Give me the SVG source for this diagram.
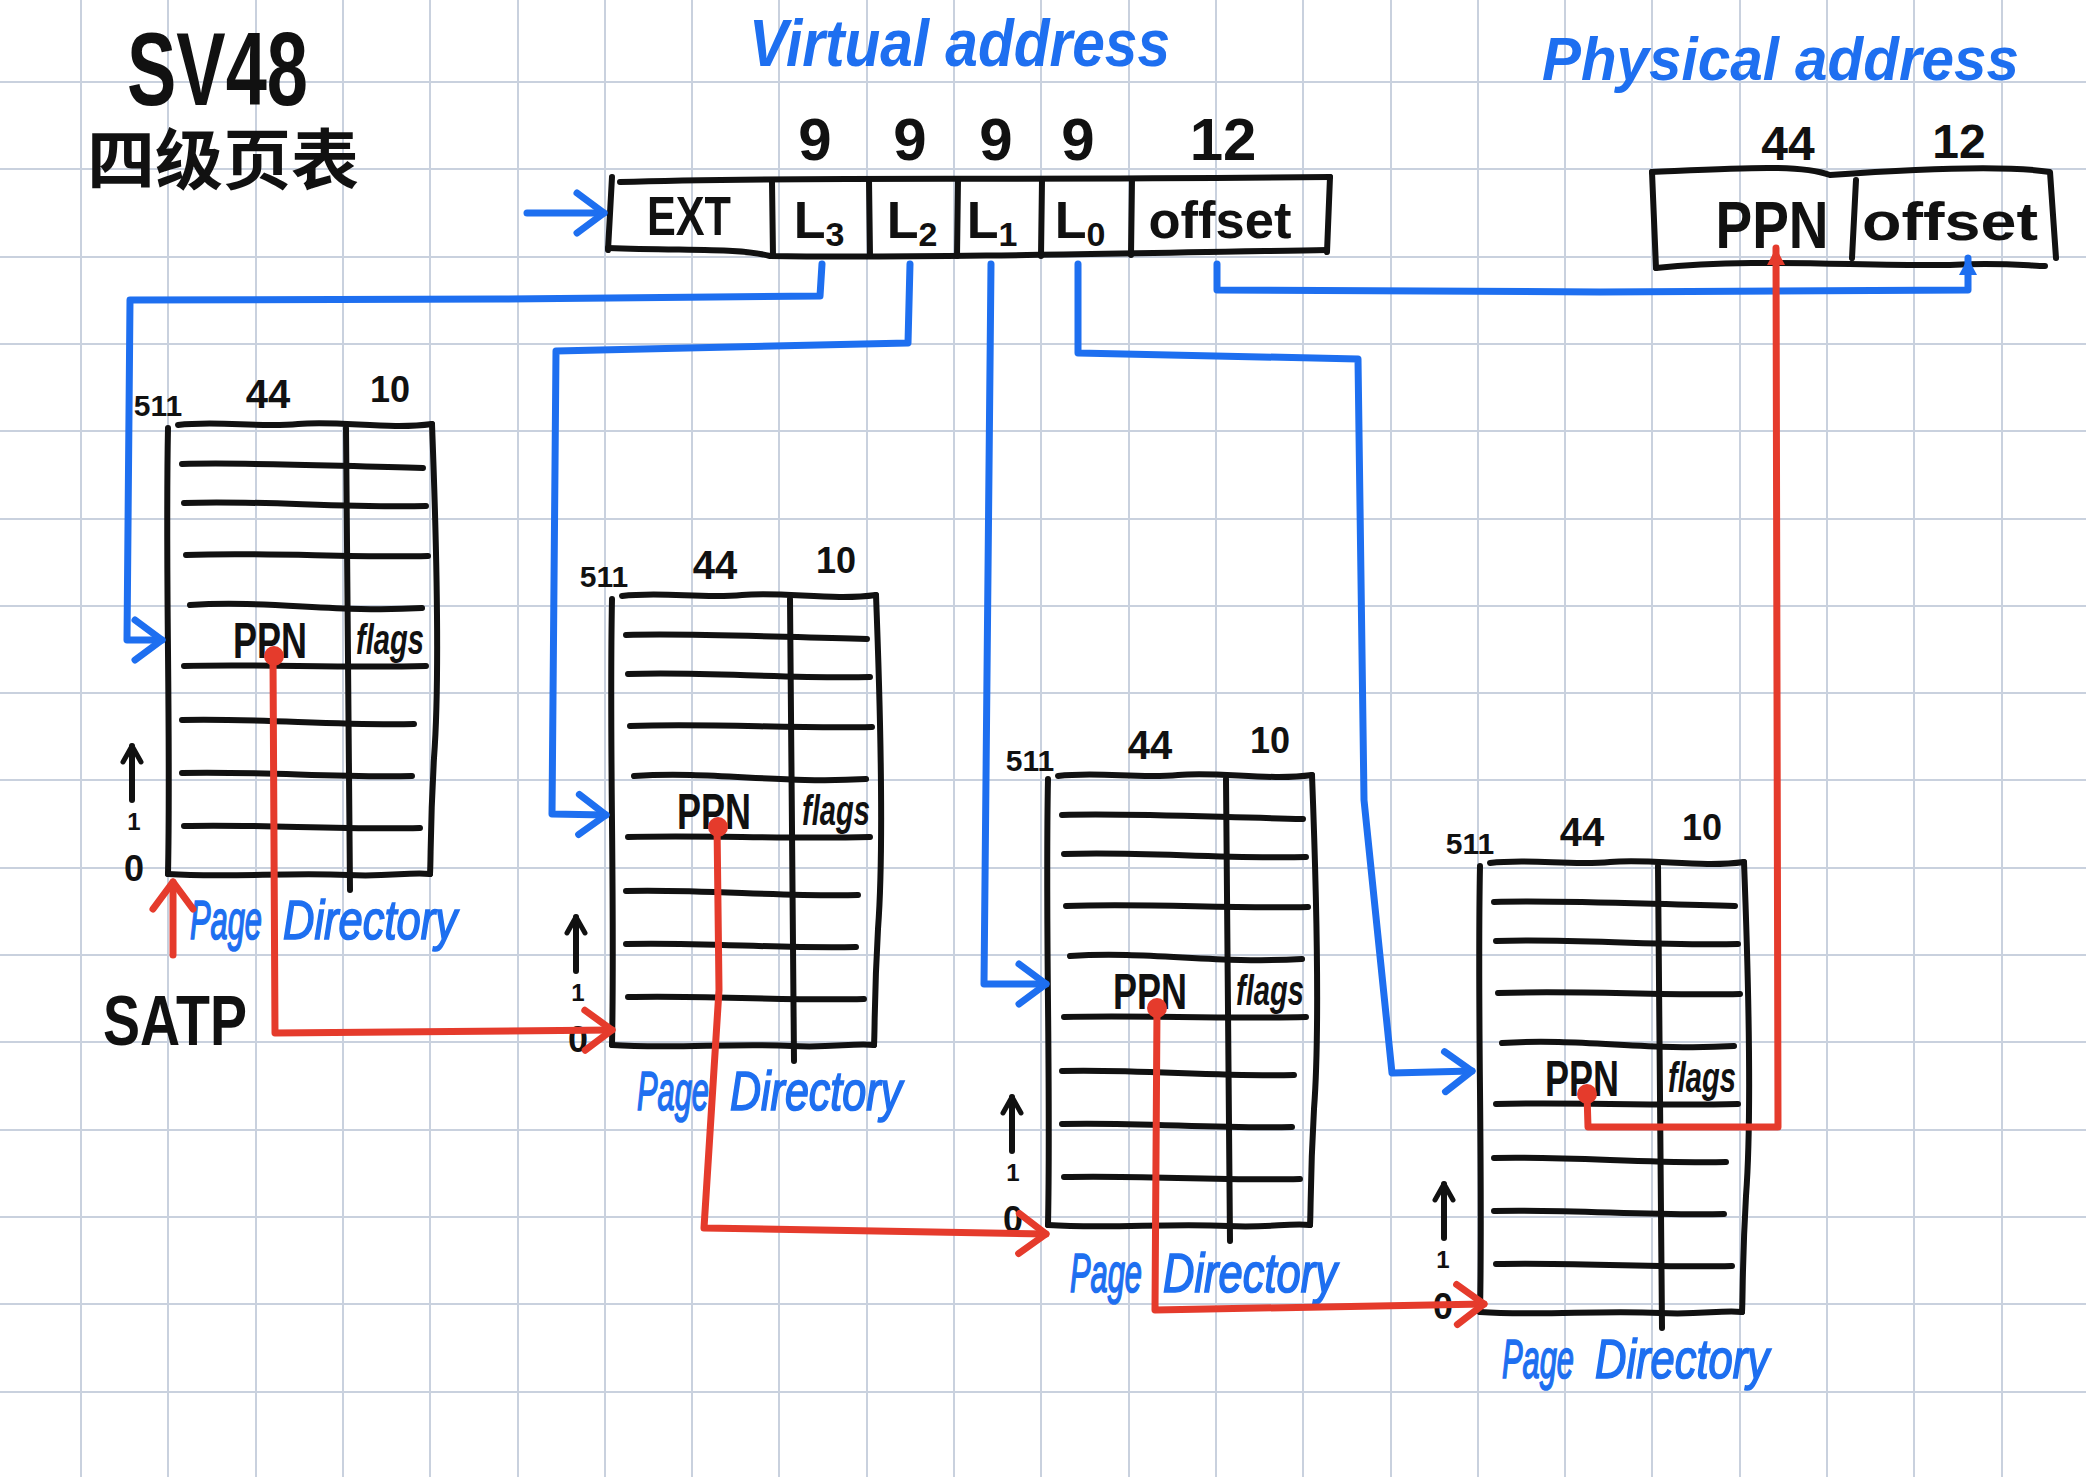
<svg xmlns="http://www.w3.org/2000/svg" xmlns:xlink="http://www.w3.org/1999/xlink" width="2086" height="1477" viewBox="0 0 2086 1477">
<style>
.grid{stroke:#c9d1de;stroke-width:2;fill:none}
.ink{stroke:#111;stroke-width:6;fill:none;stroke-linecap:round;stroke-linejoin:round}
.blue{stroke:#1e6ff0;stroke-width:7;fill:none;stroke-linecap:round;stroke-linejoin:round}
.red{stroke:#e53b2c;stroke-width:7;fill:none;stroke-linecap:round;stroke-linejoin:round}
.bk{font-family:"Liberation Sans",Arial,sans-serif;font-weight:bold;fill:#111}
.bl{font-family:"Liberation Sans",Arial,sans-serif;font-style:italic;fill:#1e6ff0;stroke:#1e6ff0;stroke-width:1.2}
.hd{font-family:"Liberation Sans",Arial,sans-serif;font-style:italic;font-weight:bold;fill:#1e6ff0}
.cjk{font-family:"Liberation Sans","Noto Sans CJK SC",sans-serif;font-weight:bold;fill:#111}
</style>
<defs>
<marker id="mb" viewBox="0 0 36 50" refX="32" refY="25" markerWidth="36" markerHeight="50" markerUnits="userSpaceOnUse" orient="auto"><path d="M5,5 L32,25 L5,45" fill="none" stroke="#1e6ff0" stroke-width="7" stroke-linecap="round" stroke-linejoin="round"/></marker>
<marker id="mr" viewBox="0 0 36 50" refX="32" refY="25" markerWidth="36" markerHeight="50" markerUnits="userSpaceOnUse" orient="auto"><path d="M5,5 L32,25 L5,45" fill="none" stroke="#e53b2c" stroke-width="7" stroke-linecap="round" stroke-linejoin="round"/></marker>
<marker id="mbs" viewBox="0 0 24 24" refX="20" refY="12" markerWidth="24" markerHeight="24" markerUnits="userSpaceOnUse" orient="auto"><path d="M3,3 L20,12 L3,21 Z" fill="#1e6ff0"/></marker>
<marker id="mrs" viewBox="0 0 24 24" refX="20" refY="12" markerWidth="24" markerHeight="24" markerUnits="userSpaceOnUse" orient="auto"><path d="M3,3 L20,12 L3,21 Z" fill="#e53b2c"/></marker>
<marker id="mk" viewBox="0 0 24 24" refX="20" refY="12" markerWidth="24" markerHeight="24" markerUnits="userSpaceOnUse" orient="auto"><path d="M4,3 L20,12 L4,21" fill="none" stroke="#111" stroke-width="5" stroke-linecap="round" stroke-linejoin="round"/></marker>
<g id="tbl" class="ink">
<path d="M0,0 C-3,150 3,300 0,446"/>
<path d="M10,-3 C50,-8 90,0 130,-4 C170,-8 220,2 264,-4"/>
<path d="M264,-4 C268,100 272,250 266,330 C262,400 263,430 262,446"/>
<path d="M0,446 C60,450 120,444 180,447 C220,449 240,444 262,446"/>
<path d="M178,0 C180,150 182,300 182,462"/>
<path d="M14,36 C80,34 160,38 255,40"/>
<path d="M16,75 C90,72 170,80 258,78"/>
<path d="M18,127 C100,124 180,130 260,128"/>
<path d="M22,177 C100,172 170,185 254,180"/>
<path d="M16,238 C90,236 170,240 258,238"/>
<path d="M14,292 C90,290 170,298 246,296"/>
<path d="M14,345 C90,343 170,350 244,348"/>
<path d="M16,398 C90,396 170,402 252,400"/>
<path d="M-36,372 L-36,318" marker-end="url(#mk)"/>
</g>
</defs>
<rect width="2086" height="1477" fill="#fff"/>
<path class="grid" d="M81,0V1477M168,0V1477M256,0V1477M343,0V1477M430,0V1477M518,0V1477M605,0V1477M692,0V1477M779,0V1477M867,0V1477M954,0V1477M1041,0V1477M1129,0V1477M1216,0V1477M1303,0V1477M1391,0V1477M1478,0V1477M1565,0V1477M1652,0V1477M1740,0V1477M1827,0V1477M1914,0V1477M2002,0V1477M0,82H2086M0,169H2086M0,257H2086M0,344H2086M0,431H2086M0,519H2086M0,606H2086M0,693H2086M0,780H2086M0,868H2086M0,955H2086M0,1042H2086M0,1130H2086M0,1217H2086M0,1304H2086M0,1392H2086"/>

<g id="title">
<text class="bk" x="127" y="105" font-size="104" textLength="181" lengthAdjust="spacingAndGlyphs">SV48</text>
<text class="cjk" x="87" y="184" font-size="66" textLength="272" lengthAdjust="spacingAndGlyphs">四级页表</text>
</g>

<g id="virtual-address">
<text class="hd" x="749" y="66" font-size="66" textLength="421" lengthAdjust="spacingAndGlyphs">Virtual address</text>
<g class="bk" font-size="60" text-anchor="middle">
<text x="815" y="160">9</text><text x="910" y="160">9</text><text x="996" y="160">9</text><text x="1078" y="160">9</text><text x="1223" y="160">12</text>
</g>
<path class="ink" d="M612,177 L608,250"/>
<path class="ink" d="M620,182 C800,176 1000,181 1330,177"/>
<path class="ink" d="M1330,177 L1327,252"/>
<path class="ink" d="M608,248 C690,251 740,248 770,256 C900,258 1100,254 1327,250"/>
<path class="ink" d="M772,182 L773,256 M869,180 L870,256 M958,180 L957,256 M1042,180 L1041,256 M1132,179 L1131,255"/>
<g class="bk" text-anchor="middle">
<text x="689" y="235" font-size="56" textLength="84" lengthAdjust="spacingAndGlyphs">EXT</text>
<text x="819" y="238" font-size="52">L<tspan font-size="34" dy="8">3</tspan></text>
<text x="912" y="238" font-size="52">L<tspan font-size="34" dy="8">2</tspan></text>
<text x="992" y="238" font-size="52">L<tspan font-size="34" dy="8">1</tspan></text>
<text x="1080" y="238" font-size="52">L<tspan font-size="34" dy="8">0</tspan></text>
<text x="1220" y="238" font-size="52" textLength="143" lengthAdjust="spacingAndGlyphs">offset</text>
</g>
</g>

<g id="physical-address">
<text class="hd" x="1542" y="80" font-size="62" textLength="477" lengthAdjust="spacingAndGlyphs">Physical address</text>
<g class="bk" text-anchor="middle" font-size="48">
<text x="1788" y="160">44</text><text x="1959" y="158">12</text>
</g>
<path class="ink" d="M1652,172 L1656,268"/>
<path class="ink" d="M1652,172 C1740,168 1800,164 1830,175 C1900,170 2000,164 2050,172 L2056,258"/>
<path class="ink" d="M1656,268 C1750,258 1850,266 1950,265 C2000,262 2030,266 2045,266"/>
<path class="ink" d="M1856,180 L1852,258"/>
<text class="bk" x="1772" y="248" font-size="66" text-anchor="middle" textLength="113" lengthAdjust="spacingAndGlyphs">PPN</text>
<text class="bk" x="1950" y="240" font-size="54" text-anchor="middle" textLength="176" lengthAdjust="spacingAndGlyphs">offset</text>
</g>

<g id="page-directory-1" transform="translate(168,428)">
<use xlink:href="#tbl" href="#tbl"/>
<g class="bk" text-anchor="middle">
<text x="-10" y="-12" font-size="30">511</text>
<text x="100" y="-20" font-size="40">44</text>
<text x="222" y="-26" font-size="36">10</text>
<text x="102" y="230" font-size="50" textLength="74" lengthAdjust="spacingAndGlyphs">PPN</text>
<text x="-34" y="453" font-size="36">0</text>
<text x="-34" y="402" font-size="24">1</text>
</g>
<text class="bk" x="222" y="226" font-size="42" font-style="italic" font-weight="normal" text-anchor="middle" textLength="68" lengthAdjust="spacingAndGlyphs">flags</text>
<text class="bl" font-size="38" transform="translate(22,511) scale(1,1.45)"><tspan x="0" y="0" textLength="72" lengthAdjust="spacingAndGlyphs">Page</tspan> <tspan x="93" y="0" textLength="174" lengthAdjust="spacingAndGlyphs">Directory</tspan></text>
</g>

<g id="page-directory-2" transform="translate(612,599)">
<use xlink:href="#tbl" href="#tbl"/>
<g class="bk" text-anchor="middle">
<text x="-8" y="-12" font-size="30">511</text>
<text x="103" y="-20" font-size="40">44</text>
<text x="224" y="-26" font-size="36">10</text>
<text x="102" y="230" font-size="50" textLength="74" lengthAdjust="spacingAndGlyphs">PPN</text>
<text x="-34" y="453" font-size="36">0</text>
<text x="-34" y="402" font-size="24">1</text>
</g>
<text class="bk" x="224" y="226" font-size="42" font-style="italic" font-weight="normal" text-anchor="middle" textLength="68" lengthAdjust="spacingAndGlyphs">flags</text>
<text class="bl" font-size="38" transform="translate(25,511) scale(1,1.45)"><tspan x="0" y="0" textLength="72" lengthAdjust="spacingAndGlyphs">Page</tspan> <tspan x="93" y="0" textLength="172" lengthAdjust="spacingAndGlyphs">Directory</tspan></text>
</g>

<g id="page-directory-3" transform="translate(1048,779)">
<use xlink:href="#tbl" href="#tbl"/>
<g class="bk" text-anchor="middle">
<text x="-18" y="-8" font-size="30">511</text>
<text x="102" y="-20" font-size="40">44</text>
<text x="222" y="-26" font-size="36">10</text>
<text x="102" y="230" font-size="50" textLength="74" lengthAdjust="spacingAndGlyphs">PPN</text>
<text x="-35" y="453" font-size="36">0</text>
<text x="-35" y="402" font-size="24">1</text>
</g>
<text class="bk" x="222" y="226" font-size="42" font-style="italic" font-weight="normal" text-anchor="middle" textLength="68" lengthAdjust="spacingAndGlyphs">flags</text>
<text class="bl" font-size="38" transform="translate(22,513) scale(1,1.45)"><tspan x="0" y="0" textLength="72" lengthAdjust="spacingAndGlyphs">Page</tspan> <tspan x="93" y="0" textLength="174" lengthAdjust="spacingAndGlyphs">Directory</tspan></text>
</g>

<g id="page-directory-4" transform="translate(1480,866)">
<use xlink:href="#tbl" href="#tbl"/>
<g class="bk" text-anchor="middle">
<text x="-10" y="-12" font-size="30">511</text>
<text x="102" y="-20" font-size="40">44</text>
<text x="222" y="-26" font-size="36">10</text>
<text x="102" y="230" font-size="50" textLength="74" lengthAdjust="spacingAndGlyphs">PPN</text>
<text x="-37" y="453" font-size="36">0</text>
<text x="-37" y="402" font-size="24">1</text>
</g>
<text class="bk" x="222" y="226" font-size="42" font-style="italic" font-weight="normal" text-anchor="middle" textLength="68" lengthAdjust="spacingAndGlyphs">flags</text>
<text class="bl" font-size="38" transform="translate(22,512) scale(1,1.45)"><tspan x="0" y="0" textLength="72" lengthAdjust="spacingAndGlyphs">Page</tspan> <tspan x="93" y="0" textLength="174" lengthAdjust="spacingAndGlyphs">Directory</tspan></text>
</g>

<g id="satp">
<text class="bk" x="103" y="1045" font-size="70" textLength="144" lengthAdjust="spacingAndGlyphs">SATP</text>
</g>

<g id="connectors">
<path class="blue" d="M527,213 L604,213" marker-end="url(#mb)"/>
<path class="blue" d="M822,264 L820,296 L500,299 L130,300 L127,640 L162,640" marker-end="url(#mb)"/>
<path class="blue" d="M910,264 L908,343 L556,351 L552,814 L606,815" marker-end="url(#mb)"/>
<path class="blue" d="M991,264 L984,984 L1046,984" marker-end="url(#mb)"/>
<path class="blue" d="M1078,264 L1078,353 L1358,359 L1364,800 L1392,1073 L1472,1071" marker-end="url(#mb)"/>
<path class="blue" d="M1217,264 L1217,290 L1600,292 L1968,290 L1968,258" marker-end="url(#mbs)"/>
<path class="red" d="M173,955 L173,882" marker-end="url(#mr)"/>
<path class="red" d="M273,658 L275,1033 L612,1030" marker-end="url(#mr)"/>
<path class="red" d="M717,824 L719,990 L704,1228 L1046,1234" marker-end="url(#mr)"/>
<path class="red" d="M1157,1008 L1155,1310 L1484,1304" marker-end="url(#mr)"/>
<path class="red" d="M1587,1094 L1588,1127 L1778,1127 L1776,248" marker-end="url(#mrs)"/>
<g fill="#e53b2c"><circle cx="274" cy="656" r="10"/><circle cx="718" cy="827" r="10"/><circle cx="1157" cy="1008" r="10"/><circle cx="1587" cy="1094" r="10"/></g>
</g>
</svg>
